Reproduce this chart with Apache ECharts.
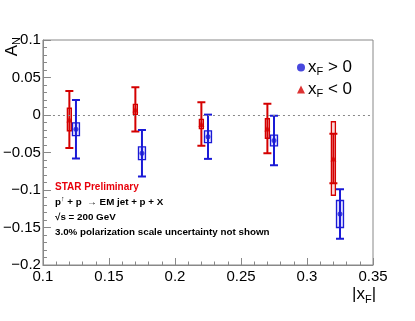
<!DOCTYPE html>
<html>
<head>
<meta charset="utf-8">
<script src="https://cdn.jsdelivr.net/npm/echarts@6/dist/echarts.min.js"></script>
<style>
  html, body { margin: 0; padding: 0; background: #fff; }
  #chart { width: 415px; height: 321px; }
</style>
</head>
<body>
<div id="chart"></div>
<script>
// values
var blueX = [0.125, 0.175, 0.225, 0.275, 0.325];
var blueA = [-0.019, -0.051, -0.029, -0.034, -0.132];
var blueStat = [0.039, 0.031, 0.0295, 0.033, 0.033];
var blueSys = [0.0085, 0.0085, 0.0078, 0.0073, 0.018];

var redX = [0.12, 0.17, 0.22, 0.27, 0.32];
var redA = [-0.006, 0.0075, -0.012, -0.018, -0.058];
var redStat = [0.038, 0.0295, 0.029, 0.033, 0.033];
var redSys = [0.015, 0.0067, 0.0062, 0.013, 0.049];

var xTicks = [0.1, 0.15, 0.2, 0.25, 0.3, 0.35];
var yTicks = [-0.2, -0.15, -0.1, -0.05, 0, 0.05, 0.1];

var FONT = '"Liberation Sans", Arial, sans-serif';
var BLUE = '#1a1ad6';
var RED = '#d40000';

function fmt(v) {
  var s = String(Math.round(v * 1000) / 1000);
  return s.replace('-', '\u2212');
}

function errBars(color, boxW, boxFill) {
  return function (params, api) {
    var x = api.value(0), y = api.value(1), st = api.value(2), sy = api.value(3);
    var t = api.coord([x, y + st]);
    var b = api.coord([x, y - st]);
    var bt = api.coord([x, y + sy]);
    var bb = api.coord([x, y - sy]);
    var cap = 4;
    var ls = { stroke: color, lineWidth: 2 };
    return {
      type: 'group',
      children: [
        { type: 'rect', shape: { x: bt[0] - boxW / 2, y: bt[1], width: boxW, height: bb[1] - bt[1] },
          style: { fill: boxFill, stroke: color, lineWidth: 1.3 } },
        { type: 'line', shape: { x1: t[0], y1: t[1], x2: b[0], y2: b[1] }, style: ls },
        { type: 'line', shape: { x1: t[0] - cap, y1: t[1], x2: t[0] + cap, y2: t[1] }, style: ls },
        { type: 'line', shape: { x1: b[0] - cap, y1: b[1], x2: b[0] + cap, y2: b[1] }, style: ls }
      ]
    };
  };
}

var blueData = blueX.map(function (x, i) { return [x, blueA[i], blueStat[i], blueSys[i]]; });
var redData = redX.map(function (x, i) { return [x, redA[i], redStat[i], redSys[i]]; });

var chart = echarts.init(document.getElementById('chart'));
var option = {
  animation: false,
  grid: { left: 42, right: 42, top: 40, bottom: 56, show: true, borderColor: '#888', borderWidth: 1 },
  xAxis: {
    type: 'value', min: 0.1, max: 0.35, interval: 0.05,
    axisLine: { show: true, onZero: false, lineStyle: { color: '#888', width: 1 } },
    axisTick: { inside: true, length: 7, lineStyle: { color: '#888' } },
    minorTick: { show: true, splitNumber: 5, length: 3.5, lineStyle: { color: '#888' } },
    splitLine: { show: false },
    axisLabel: { color: '#000', fontSize: 15, fontFamily: FONT, margin: 4, showMinLabel: true, showMaxLabel: true,
      formatter: function (v) { return fmt(v); } }
  },
  yAxis: {
    type: 'value', min: -0.2, max: 0.1, interval: 0.05,
    axisLine: { show: true, onZero: false, lineStyle: { color: '#888', width: 1 } },
    axisTick: { inside: true, length: 8, lineStyle: { color: '#888' } },
    minorTick: { show: true, splitNumber: 5, length: 4, lineStyle: { color: '#888' } },
    splitLine: { show: false },
    axisLabel: { color: '#000', fontSize: 15, fontFamily: FONT, margin: 2, showMinLabel: true, showMaxLabel: true,
      formatter: function (v) { return fmt(v); } }
  },
  legend: {
    orient: 'vertical', left: 292, top: 54, itemGap: 4, itemWidth: 8, itemHeight: 8,
    data: [
      { name: 'pos', icon: 'circle' },
      { name: 'neg', icon: 'triangle' }
    ],
    formatter: function (n) {
      return n === 'pos' ? '{x|x}{s|F}{x| > 0}' : '{x|x}{s|F}{x| < 0}';
    },
    textStyle: {
      padding: [0, 0, 0, -2],
      rich: {
        x: { fontSize: 17, fontFamily: FONT, color: '#000' },
        s: { fontSize: 11, fontFamily: FONT, color: '#000', verticalAlign: 'bottom', padding: [8, 0, 0, 0] }
      }
    }
  },
  series: [
    {
      type: 'custom', name: 'negErr', renderItem: errBars(RED, 4, 'rgba(212,0,0,0.15)'),
      data: redData, encode: { x: 0, y: 1 }, z: 3,
      markLine: {
        silent: true, symbol: 'none', label: { show: false },
        lineStyle: { color: '#888', type: [2, 3], width: 1 },
        data: [{ yAxis: 0 }]
      }
    },
    {
      type: 'custom', name: 'posErr', renderItem: errBars(BLUE, 7, 'rgba(150,150,255,0.3)'),
      data: blueData, encode: { x: 0, y: 1 }, z: 3
    },
    {
      type: 'scatter', name: 'neg', symbol: 'triangle', symbolSize: 6, z: 5,
      itemStyle: { color: RED },
      data: redX.map(function (x, i) { return [x, redA[i]]; })
    },
    {
      type: 'scatter', name: 'pos', symbol: 'circle', symbolSize: 5, z: 5,
      itemStyle: { color: BLUE },
      data: blueX.map(function (x, i) { return [x, blueA[i]]; })
    }
  ],
  graphic: [
    { type: 'text', left: 4, top: 37, rotation: Math.PI / 2,
      style: { text: '{a|A}{n|N}', rich: {
        a: { fontSize: 17, fontFamily: FONT, fill: '#000' },
        n: { fontSize: 11, fontFamily: FONT, fill: '#000', padding: [8, 0, 0, 0] } } } },
    { type: 'text', left: 352, top: 286,
      style: { text: '{a||x}{n|F}{a||}', rich: {
        a: { fontSize: 17, fontFamily: FONT, fill: '#000' },
        n: { fontSize: 11, fontFamily: FONT, fill: '#000', padding: [10, 0, 0, 0] } } } },
    { type: 'text', left: 55, top: 182,
      style: { text: 'STAR Preliminary', fontSize: 10, fontWeight: 'bold', fontFamily: FONT, fill: '#e8000b' } },
    { type: 'text', left: 55, top: 196,
      style: { text: '{b|p}{u|\u2191}{b| + p  \u2192 EM jet + p + X}', rich: {
        b: { fontSize: 9.8, fontWeight: 'bold', fontFamily: FONT, fill: '#000' },
        u: { fontSize: 7, fontWeight: 'bold', fontFamily: FONT, fill: '#000', padding: [0, 0, 6, 0] } } } },
    { type: 'text', left: 55, top: 212,
      style: { text: '\u221As = 200 GeV', fontSize: 9.8, fontWeight: 'bold', fontFamily: FONT, fill: '#000' } },
    { type: 'text', left: 55, top: 227,
      style: { text: '3.0% polarization scale uncertainty not shown', fontSize: 9.8, fontWeight: 'bold', fontFamily: FONT, fill: '#000' } }
  ]
};
chart.setOption(option);
</script>
</body>
</html>
